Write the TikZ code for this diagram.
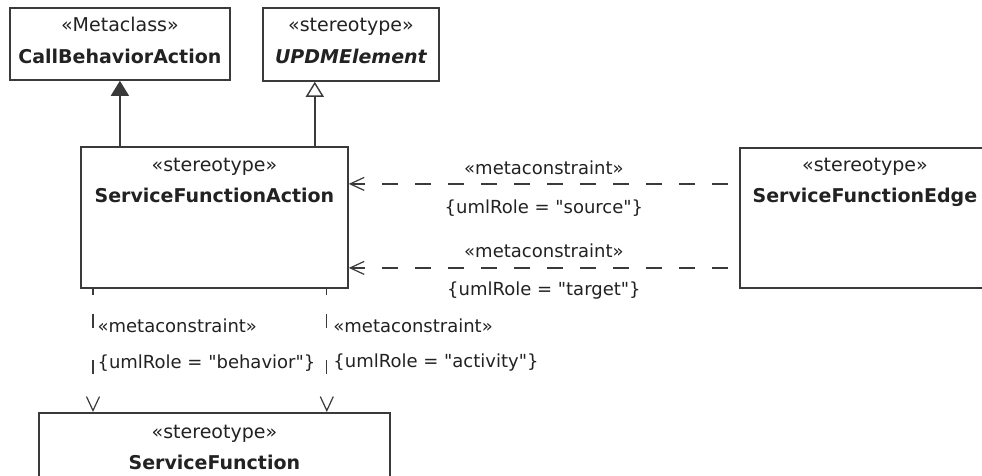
\documentclass[tikz,border=0pt]{standalone}
\usepackage{fontspec}
\setmainfont{DejaVu Sans}
\usetikzlibrary{arrows.meta,positioning}

\definecolor{linegray}{HTML}{3A3A3A}
\definecolor{textgray}{HTML}{222222}

\begin{document}
\begin{tikzpicture}[
  x=1pt, y=-1pt,
  cls/.style={rectangle, draw=linegray, line width=1.8pt, fill=white,
              inner sep=0pt, anchor=north west},
  ster/.style={anchor=base, inner sep=0pt, text=textgray,
               font=\fontsize{19}{21}\selectfont},
  cname/.style={anchor=base, inner sep=0pt, text=textgray,
                font=\fontsize{19}{21}\selectfont\bfseries},
  lbl/.style={inner sep=0pt, text=textgray,
              font=\fontsize{18}{20}\selectfont},
  ext/.style={-{Triangle[length=15pt, width=18pt, fill=linegray]},
              line width=1.4pt, linegray},
  gen/.style={-{Triangle[open, length=15pt, width=18pt]},
              line width=1.4pt, linegray},
  dep/.style={-{Straight Barb[length=14pt, width=13pt]},
              line width=1.2pt, linegray},
  hdash/.style={dash pattern=on 16pt off 17pt, dash phase=22pt},
  vdash/.style={dash pattern=on 6pt off 19pt on 14pt off 32pt on 14pt off 40pt}
]
\useasboundingbox (0,0) rectangle (982,476);
\clip (0,0) rectangle (982,476);
\fill[white] (0,0) rectangle (982,476);

% Classes
\node[cls, minimum width=220pt, minimum height=72pt]  (cba) at (9,7) {};
\node[cls, minimum width=176pt, minimum height=73pt]  (upd) at (262,7) {};
\node[cls, minimum width=267pt, minimum height=141pt] (sfa) at (80,146) {};
\node[cls, minimum width=262pt, minimum height=140pt] (sfe) at (739,147) {};
\node[cls, minimum width=351pt, minimum height=90pt]  (sf)  at (38,412) {};

% Class texts
\node[ster]  (cba-s) at ([yshift=-25pt]cba.north) {«Metaclass»};
\node[cname] (cba-n) at ([yshift=-57pt]cba.north) {CallBehaviorAction};
\node[ster]  (upd-s) at ([yshift=-25pt]upd.north) {«stereotype»};
\node[cname] (upd-n) at ([yshift=-57pt]upd.north) {\itshape UPDMElement};
\node[ster]  (sfa-s) at ([yshift=-25pt]sfa.north) {«stereotype»};
\node[cname] (sfa-n) at ([yshift=-56pt]sfa.north) {ServiceFunctionAction};
\node[ster]  (sfe-s) at ([yshift=-24pt, xshift=-6pt]sfe.north) {«stereotype»};
\node[cname] (sfe-n) at ([yshift=-55pt, xshift=-6pt]sfe.north) {ServiceFunctionEdge};
\node[ster]  (sf-s)  at ([yshift=-26pt]sf.north)  {«stereotype»};
\node[cname] (sf-n)  at ([yshift=-57pt]sf.north)  {ServiceFunction};

% Extension and generalization
\coordinate (g1) at (cba.south |- sfa.north);
\coordinate (g2) at ([xshift=-34pt]sfa.north east);
\draw[ext] (g1) -- (cba.south);
\draw[gen] (g2) -- (g2 |- upd.south);

% Metaconstraints to ServiceFunctionAction
\coordinate (h1) at ([yshift=34pt]sfe.west);
\coordinate (h2) at ([yshift=-50pt]sfe.west);
\draw[dep, hdash] (h1) -- (h1 -| sfa.east)
  node[lbl, midway, yshift=16pt] {«metaconstraint»}
  node[lbl, midway, yshift=-24pt] {\{umlRole = \textquotedbl source\textquotedbl\}};
\draw[dep, hdash] (h2) -- (h2 -| sfa.east)
  node[lbl, midway, yshift=17pt] {«metaconstraint»}
  node[lbl, midway, yshift=-23pt] {\{umlRole = \textquotedbl target\textquotedbl\}};

% Metaconstraints to ServiceFunction
\coordinate (d1) at ([xshift=13pt]sfa.south west);
\coordinate (d2) at ([xshift=-22pt]sfa.south east);
\draw[dep, vdash] (d1) -- (d1 |- sf.north)
  node[lbl, pos=0.3, anchor=west, xshift=4pt] {«metaconstraint»}
  node[lbl, pos=0.6, anchor=west, xshift=4pt] {\{umlRole = \textquotedbl behavior\textquotedbl\}};
\draw[dep, vdash] (d2) -- (d2 |- sf.north)
  node[lbl, pos=0.3, anchor=west, xshift=6pt] {«metaconstraint»}
  node[lbl, pos=0.6, anchor=west, xshift=6pt] {\{umlRole = \textquotedbl activity\textquotedbl\}};

\end{tikzpicture}
\end{document}
